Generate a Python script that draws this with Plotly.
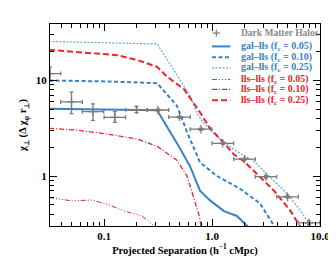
import numpy as np
import plotly.graph_objects as go

# ---------------- data ----------------
halo_x = [0.0316, 0.050, 0.079, 0.126, 0.200, 0.316, 0.50, 0.79, 1.26, 2.00, 3.16, 5.00, 7.90]
halo_y = [11.8, 5.96, 4.71, 4.12, 4.94, 4.91, 4.14, 3.09, 2.20, 1.50, 0.984, 0.606, 0.324]
halo_yerr_up = [2.0, 1.60, 0.98, 0.59, 0.40, 0.12, 0.10, 0.08, 0.06, 0.04, 0.03, 0.02, 0.015]
halo_yerr_dn = [2.0, 1.45, 0.89, 0.48, 0.34, 0.12, 0.10, 0.08, 0.06, 0.04, 0.03, 0.02, 0.015]
halo_bin_halfwidth_dex = 0.1

gal05_x = [0.031, 0.107, 0.31, 0.495, 0.626, 0.774, 0.958, 1.29, 1.70, 2.11, 2.3]
gal05_y = [5.06, 5.00, 4.89, 2.02, 1.26, 0.703, 0.556, 0.429, 0.382, 0.302, 0.27]

gal10_x = [0.031, 0.107, 0.31, 0.474, 0.587, 0.774, 1.112, 1.816, 2.78, 3.75, 4.0]
gal10_y = [10.0, 9.77, 9.38, 5.43, 2.88, 1.39, 1.00, 0.736, 0.518, 0.302, 0.27]

gal25_x = [0.031, 0.107, 0.31, 0.505, 0.626, 0.726, 0.843, 1.112, 1.60, 2.45, 3.44, 4.95, 6.53, 7.91, 8.6]
gal25_y = [25.6, 25.0, 24.1, 10.2, 6.87, 4.5, 3.56, 2.58, 1.89, 1.42, 0.977, 0.655, 0.44, 0.324, 0.28]

lls05_x = [0.031, 0.0506, 0.0774, 0.1106, 0.156, 0.225, 0.29, 0.30]
lls05_y = [0.597, 0.549, 0.562, 0.500, 0.429, 0.382, 0.302, 0.28]

lls10_x = [0.031, 0.0562, 0.107, 0.202, 0.31, 0.474, 0.587, 0.681, 0.758, 0.791, 0.80]
lls10_y = [3.16, 3.02, 2.75, 2.44, 2.05, 1.46, 1.00, 0.597, 0.39, 0.302, 0.28]

lls25_x = [0.031, 0.132, 0.202, 0.31, 0.383, 0.551, 0.774, 0.958, 1.29, 1.60, 1.98, 2.61, 3.75, 5.27, 6.53, 6.9]
lls25_y = [20.9, 18.4, 16.4, 13.9, 11.0, 8.09, 4.64, 3.16, 2.22, 1.68, 1.42, 1.05, 0.703, 0.44, 0.302, 0.27]

x_major = [0.1, 1.0, 10.0]
x_major_text = ["0.1", "1.0", "10.0"]
y_major = [1, 10]
y_major_text = ["1", "10"]

legend_labels = ["Dark Matter Halos",
                 "gal–lls (f<sub>c</sub> = 0.05)", "gal–lls (f<sub>c</sub> = 0.10)",
                 "gal–lls (f<sub>c</sub> = 0.25)",
                 "lls–lls (f<sub>c</sub> = 0.05)", "lls–lls (f<sub>c</sub> = 0.10)",
                 "lls–lls (f<sub>c</sub> = 0.25)"]

# ---------------- styles ----------------
BLUE = "#3a82c4"
LBLUE = "#5fa6dc"
RED = "#e8262b"
GRAY = "#7a7a7a"
FONT = "Liberation Serif"

fig = go.Figure()

curve_data = [(gal05_x, gal05_y), (gal10_x, gal10_y), (gal25_x, gal25_y),
              (lls05_x, lls05_y), (lls10_x, lls10_y), (lls25_x, lls25_y)]
curve_styles = [
    (BLUE, 2.0, "solid", BLUE),
    (BLUE, 2.0, "4px,2.5px", BLUE),
    (LBLUE, 1.2, "2px,1.5px", BLUE),
    (RED, 1.0, "5px,2px,1px,2px,1px,2px,1px,2px", RED),
    (RED, 1.3, "5px,2px,1px,2px", RED),
    (RED, 2.0, "6px,3px", RED),
]
for (xs, ys), (c, w, d, tc), name in zip(curve_data, curve_styles, legend_labels[1:]):
    fig.add_trace(go.Scatter(x=xs, y=ys, mode="lines", line=dict(color=c, width=w, dash=d),
                             name=name, showlegend=False))

hx = np.array(halo_x)
f = 10 ** halo_bin_halfwidth_dex
fig.add_trace(go.Scatter(
    x=halo_x, y=halo_y, mode="markers",
    marker=dict(symbol="cross-thin-open", size=6, color=GRAY, line=dict(color=GRAY, width=1.2)),
    error_x=dict(type="data", symmetric=False, array=list(hx * (f - 1)), arrayminus=list(hx * (1 - 1 / f)),
                 color=GRAY, thickness=1.3, width=2),
    error_y=dict(type="data", symmetric=False, array=halo_yerr_up, arrayminus=halo_yerr_dn,
                 color=GRAY, thickness=1.3, width=2),
    name=legend_labels[0], showlegend=False))

# ---------------- custom compact legend (paper coords) ----------------
leg_rows_y = [0.955, 0.889, 0.836, 0.783, 0.725, 0.676, 0.623]
leg_x0, leg_x1, leg_tx = 0.600, 0.668, 0.700
shapes = []
annotations = []
# "+" symbol for halos
cx, cy = 0.616, leg_rows_y[0]
shapes.append(dict(type="line", xref="paper", yref="paper", x0=cx - 0.013, x1=cx + 0.013, y0=cy, y1=cy,
                   line=dict(color=GRAY, width=1.2)))
shapes.append(dict(type="line", xref="paper", yref="paper", x0=cx, x1=cx, y0=cy - 0.017, y1=cy + 0.017,
                   line=dict(color=GRAY, width=1.2)))
annotations.append(dict(xref="paper", yref="paper", x=leg_tx, y=leg_rows_y[0], xanchor="left",
                        yanchor="middle", showarrow=False, text=legend_labels[0],
                        font=dict(family=FONT, size=9.5, color="#8a8a8a", weight="bold")))
for (c, w, d, tc), yy, lab in zip(curve_styles, leg_rows_y[1:], legend_labels[1:]):
    shapes.append(dict(type="line", xref="paper", yref="paper", x0=leg_x0, x1=leg_x1, y0=yy, y1=yy,
                       line=dict(color=c, width=w, dash=d)))
    annotations.append(dict(xref="paper", yref="paper", x=leg_tx, y=yy, xanchor="left",
                            yanchor="middle", showarrow=False, text=lab,
                            font=dict(family=FONT, size=10, color=tc, weight="bold")))

x_minor = [0.04, 0.05, 0.06, 0.07, 0.08, 0.09, 0.2, 0.3, 0.4, 0.5, 0.6, 0.7, 0.8, 0.9,
           2, 3, 4, 5, 6, 7, 8, 9]
y_minor = [0.3, 0.4, 0.5, 0.6, 0.7, 0.8, 0.9, 2, 3, 4, 5, 6, 7, 8, 9, 20, 30]

axis_common = dict(type="log", showline=True, linecolor="black", linewidth=1.3, mirror="ticks",
                   ticks="inside", ticklen=7, tickwidth=1.2, tickcolor="black",
                   showgrid=False, zeroline=False,
                   tickfont=dict(family=FONT, size=11, color="black", weight="bold"))

fig.update_layout(
    width=336, height=256,
    margin=dict(l=42, r=24, t=16, b=33),
    paper_bgcolor="white", plot_bgcolor="white",
    font=dict(family=FONT, size=10, color="black", weight="bold"),
    xaxis=dict(**axis_common, range=[np.log10(0.0316), 1.0],
               tickmode="array", tickvals=x_major, ticktext=x_major_text,
               minor=dict(tickmode="array", tickvals=x_minor, ticks="inside", ticklen=4,
                          tickwidth=1, tickcolor="black", showgrid=False),
               title=dict(text="Projected Separation (h<sup>−1</sup> cMpc)", standoff=2,
                          font=dict(family=FONT, size=10.5, weight="bold"))),
    yaxis=dict(**axis_common, range=[np.log10(0.3), np.log10(39)],
               tickmode="array", tickvals=y_major, ticktext=y_major_text,
               minor=dict(tickmode="array", tickvals=y_minor, ticks="inside", ticklen=4,
                          tickwidth=1, tickcolor="black", showgrid=False),
               title=dict(text="χ<sub>⊥</sub> (Δ χ<sub>φ</sub> r<sub>⊥</sub>)", standoff=6,
                          font=dict(family=FONT, size=10.5, weight="bold"))),
    shapes=shapes,
    annotations=annotations,
    showlegend=False,
)

fig.write_html("out.html")
